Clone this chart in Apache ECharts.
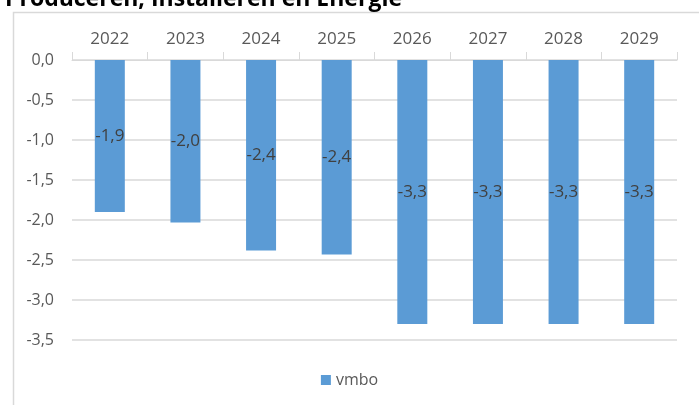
<!DOCTYPE html>
<html>
<head>
<meta charset="utf-8">
<script src="https://cdn.jsdelivr.net/npm/echarts@6/dist/echarts.min.js"></script>
<style>
  html, body { margin: 0; padding: 0; background: #fff; }
  #my_chart { width: 699px; height: 405px; }
</style>
</head>
<body>
<div id="my_chart"></div>
<script>
// data
var years = ['2022', '2023', '2024', '2025', '2026', '2027', '2028', '2029'];
var vmbo = [-1.9, -2.03, -2.38, -2.43, -3.3, -3.3, -3.3, -3.3];
var seriesName = 'vmbo';
var titleText = 'Produceren, Installeren en Energie';

function comma(v, d) {
  return v.toFixed(d).replace('.', ',');
}

var chart = echarts.init(document.getElementById('my_chart'));
chart.setOption({
  animation: false,
  textStyle: { fontFamily: 'Open Sans' },
  title: {
    text: titleText,
    left: 0,
    top: -17,
    textStyle: { fontSize: 23, fontWeight: 'bold', color: '#000', fontFamily: 'Open Sans' }
  },
  graphic: [{
    type: 'rect',
    left: 11,
    top: 10,
    shape: { width: 720, height: 420 },
    style: { fill: 'none', stroke: '#d9d9d9', lineWidth: 1.5 },
    silent: true
  }],
  legend: {
    data: [seriesName],
    bottom: 12,
    left: 'center',
    itemWidth: 10,
    itemHeight: 10,
    itemGap: 6,
    icon: 'rect',
    textStyle: { fontSize: 16, color: '#595959' }
  },
  grid: { left: 72, right: 22, top: 60, bottom: 65, containLabel: false },
  xAxis: {
    type: 'category',
    data: years,
    position: 'top',
    axisLine: { lineStyle: { color: '#d9d9d9', width: 1 } },
    axisTick: { show: true, alignWithLabel: false, length: 8, lineStyle: { color: '#d9d9d9' } },
    axisLabel: { fontSize: 17, color: '#595959', margin: 12 }
  },
  yAxis: {
    type: 'value',
    min: -3.5,
    max: 0,
    interval: 0.5,
    axisLine: { show: false },
    axisTick: { show: false },
    splitLine: { lineStyle: { color: '#d9d9d9', width: 1.5 } },
    axisLabel: {
      fontSize: 16, color: '#595959', margin: 18,
      formatter: function (v) { return comma(v, 1); }
    }
  },
  series: [{
    name: seriesName,
    type: 'bar',
    data: vmbo,
    barWidth: 30,
    itemStyle: { color: '#5b9bd5' },
    label: {
      show: true,
      position: 'inside',
      fontSize: 17,
      color: '#404040',
      formatter: function (p) { return comma(p.value, 1); }
    }
  }]
});
</script>
</body>
</html>
